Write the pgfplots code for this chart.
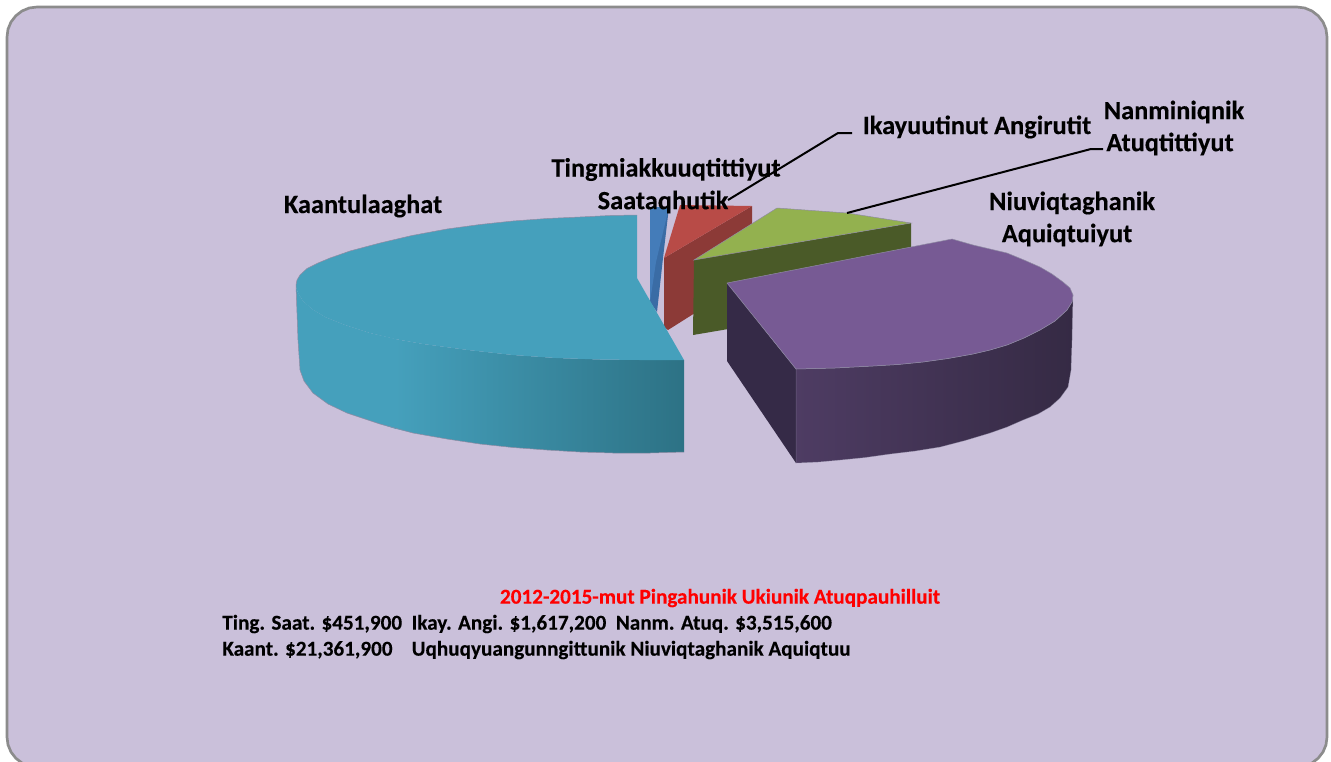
\documentclass[border=0pt]{standalone}
\usepackage{fontspec}
\setmainfont[BoldFeatures={FakeBold=0.25}]{Carlito}
\usepackage{pgfplots}
\pgfplotsset{compat=1.18}
\definecolor{bgc}{HTML}{CAC0DA}
\definecolor{frameC}{HTML}{8C8C8C}
\definecolor{edgeC}{HTML}{8F8BA3}
\definecolor{tealTop}{HTML}{45A0BC}
\definecolor{tealMid}{HTML}{3C8BA3}
\definecolor{tealDark}{HTML}{2D7285}
\definecolor{blueTop}{HTML}{447CB9}
\definecolor{blueSide}{HTML}{3A6CA5}
\definecolor{redTop}{HTML}{B84B47}
\definecolor{redSide}{HTML}{8C3A37}
\definecolor{greenTop}{HTML}{93B14F}
\definecolor{greenSide}{HTML}{4A5A28}
\definecolor{purpleTop}{HTML}{775A94}
\definecolor{purpleA}{HTML}{4E3C63}
\definecolor{purpleB}{HTML}{332843}
\definecolor{purpleC}{HTML}{352A44}
\definecolor{purpleLeft}{HTML}{352A47}
\newcommand{\lab}{\fontsize{15.8}{15.8}\selectfont\bfseries}
\newcommand{\leg}{\fontsize{12.7}{12.7}\selectfont\bfseries}
\begin{document}
\begin{tikzpicture}
\begin{axis}[
  scale only axis, width=798.6pt, height=456.6pt,
  xmin=0, xmax=1331, ymin=0, ymax=761, y dir=reverse,
  hide axis, clip=true,
]
% page
\addplot[fill=white, draw=none] coordinates {(0,0)(1331,0)(1331,761)(0,761)} -- cycle;
% panel
\addplot[fill=bgc, draw=frameC, line width=1.6pt] coordinates {
 (7,37)(8,29.2)(11,22)(15.8,15.8)(22,11)(29.2,8)(37,7)
 (1297,7)(1304.8,8)(1312,11)(1318.2,15.8)(1323,22)(1326,29.2)(1327,37)
 (1327,737)(1326,744.8)(1323,752)(1318.2,758.2)(1312,763)(1304.8,766)(1297,767)
 (37,767)(29.2,766)(22,763)(15.8,758.2)(11,752)(8,744.8)(7,737)} -- cycle;
% Tingmiakkuuqtittiyut Saataqhutik
\addplot[fill=blueSide, draw=none] coordinates {(650,207)(669,207)(663,258)(657,312)(650,302)} -- cycle;
\addplot[fill=blueTop, draw=none] coordinates {(650,207)(669,207)(656,262)(650,302)} -- cycle;
% Ikayuutinut Angirutit
\addplot[fill=redSide, draw=none] coordinates {(664,258)(752,206)(752,277)(668,330)(664,327)} -- cycle;
\addplot[fill=redTop, draw=none] coordinates {(680,205)(752,206)(664,258)} -- cycle;
% Nanminiqnik Atuqtittiyut
\addplot[fill=greenSide, draw=none] coordinates {(694,260)(911,223)(911,298)(693,335)} -- cycle;
\addplot[fill=greenTop, draw=edgeC, line width=0.3pt] coordinates {(694,260)(777,208)(847,213)(911,223)} -- cycle;
% Niuviqtaghanik Aquiqtuiyut
\addplot[fill=purpleLeft, draw=none] coordinates {(727,283)(796,369)(796,463)(727,361)} -- cycle;
\addplot[shade, left color=purpleA, middle color=purpleB, right color=purpleC, draw=edgeC, draw opacity=0.5, line width=0.3pt] coordinates {
 (796,369)(835,368)(873,366)(898,364.5)(923,362)(948,358.5)(973,354)(990,350)(1007,345)(1024,338)(1040,330)(1055,321)(1067,310)(1072,302)(1073,295)
 (1072,340)(1071,370)(1068,387)(1060,398)(1050,407)(1038,414)(1023,420)(1007,427)(990,433)(965,440.5)(940,447)(915,451)(890,454)(865,457.5)(840,460)(818,462)(796,463)} -- cycle;
\addplot[fill=purpleTop, draw=edgeC, line width=0.3pt] coordinates {
 (727,283)(952,239)(973,245)(990,249)(1007,253)(1024,260)(1040,267)(1052,274)(1063,282)(1070,288)(1073,295)(1072,302)(1067,310)(1055,321)(1040,330)
 (1024,338)(1007,345)(990,350)(973,354)(948,358.5)(923,362)(898,364.5)(873,366)(835,368)(796,369)} -- cycle;
% Kaantulaaghat
\addplot[fill=tealTop, draw=none] coordinates {
 (296,287)(298,293)(303,301)(312,309)(325,317)(345,325)(370,333)(396,339)
 (396,429)(380,424)(347,413)(328,404)(313,393)(304,381)(300,370)(298,340)} -- cycle;
\addplot[shade, left color=tealTop, middle color=tealMid, right color=tealDark, draw=none] coordinates {
 (395,339)(423,344)(468,350)(513,355)(556,358)(600,359.5)(640,360)(684,360)
 (684,452)(650,453)(613,453)(580,452)(547,450)(513,447.5)(480,444)(447,439)(413,433)(395,428.5)} -- cycle;
\addplot[fill=tealTop, draw=none] coordinates {
 (637,215)(637,278)(684,360)(640,360)(600,359.5)(556,358)(513,355)(468,350)(423,344)(395,339)(370,333)(345,325)(325,317)(312,309)(303,301)(298,293)(296,287)
 (296,285)(297,280)(300,275)(307,268.5)(318,263)(330,258)(350,251)(380,243)(412,235.5)(447,229)(480,224.5)(513,221)(547,218.5)(580,217)(610,215.5)} -- cycle;
\addplot[draw=edgeC, line width=0.3pt] coordinates {
 (296,285)(297,280)(300,275)(307,268.5)(318,263)(330,258)(350,251)(380,243)(412,235.5)(447,229)(480,224.5)(513,221)(547,218.5)(580,217)(610,215.5)(637,215)};
\addplot[draw=edgeC, line width=0.3pt] coordinates {
 (296,285)(298,340)(300,370)(304,381)(313,393)(328,404)(347,413)(380,424)(413,433)(447,439)(480,444)(513,447.5)(547,450)(580,452)(613,453)(650,453)(684,452)};
% leader lines
\addplot[black, line width=1.2pt] coordinates {(728,200)(838,133)(852,133)};
\addplot[black, line width=1.2pt] coordinates {(847,213)(1091,149)(1103,149)};
% labels
\node[anchor=center] at (axis cs:363,206) {\lab Kaantulaaghat};
\node[anchor=center] at (axis cs:666,169.5) {\lab Tingmiakkuuqtittiyut};
\node[anchor=center] at (axis cs:663,202) {\lab Saataqhutik};
\node[anchor=center] at (axis cs:977,127) {\lab Ikayuutinut Angirutit};
\node[anchor=center] at (axis cs:1174,112) {\lab Nanminiqnik};
\node[anchor=center] at (axis cs:1170,144) {\lab Atuqtittiyut};
\node[anchor=center] at (axis cs:1072,203) {\lab Niuviqtaghanik};
\node[anchor=center] at (axis cs:1067,235) {\lab Aquiqtuiyut};
\node[anchor=center, text=red] at (axis cs:720,598) {\leg 2012-2015-mut Pingahunik Ukiunik Atuqpauhilluit};
\node[anchor=west, inner sep=0pt] at (axis cs:222,624) {\leg Ting. Saat. \$451,900\ \ Ikay. Angi. \$1,617,200\ \ Nanm. Atuq. \$3,515,600};
\node[anchor=west, inner sep=0pt] at (axis cs:222,650) {\leg Kaant. \$21,361,900\ \ \ \ Uqhuqyuangunngittunik Niuviqtaghanik Aquiqtuu};
\end{axis}
\end{tikzpicture}
\end{document}
